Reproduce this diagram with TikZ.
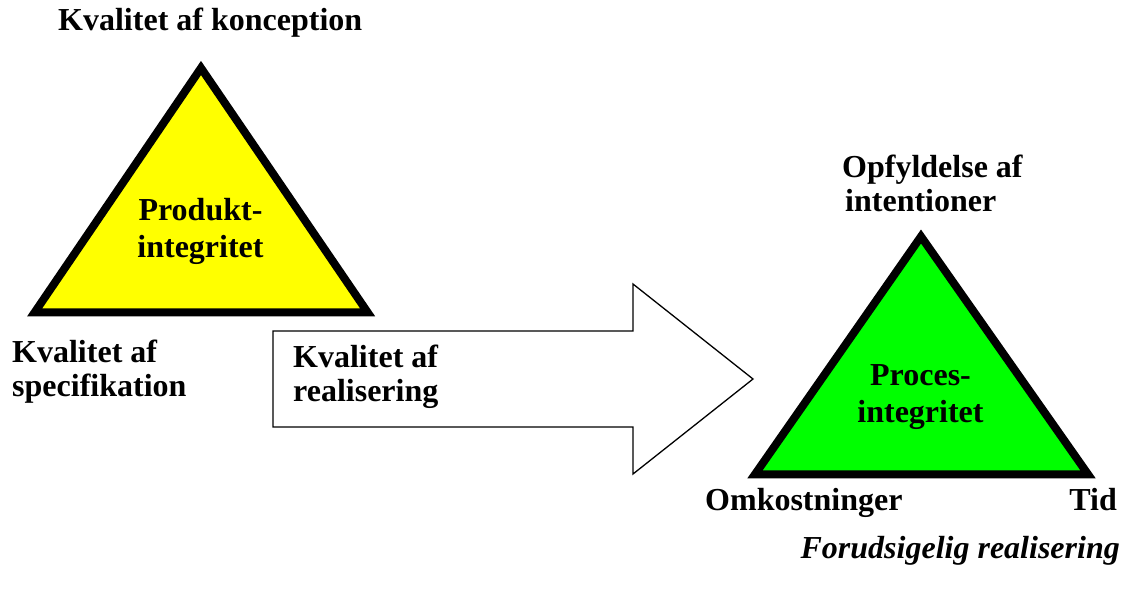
\documentclass[tikz,border=0pt]{standalone}
\usepackage{fontspec}
\setmainfont{Liberation Serif}
\definecolor{triyellow}{RGB}{255,255,0}
\definecolor{trigreen}{RGB}{0,255,0}
\newcommand{\lines}[2]{\begin{tabular}[t]{@{}#1@{}}#2\end{tabular}}
\tikzset{
  tri/.style={draw=black, line width=8pt, line join=miter},
  bigarrow/.style={draw=black, fill=white, line width=1.3pt, line join=miter},
  lab/.style={inner sep=0pt, font=\fontsize{32}{34}\selectfont\bfseries},
  inlab/.style={inner sep=0pt, font=\fontsize{32}{37}\selectfont\bfseries},
}
\begin{document}
\begin{tikzpicture}[x=1pt, y=-1pt]
\useasboundingbox (0,0) rectangle (1128,592);
% coordinates of the triangles
\coordinate (pA) at (201,68);
\coordinate (pL) at (34.7,312.3);
\coordinate (pR) at (367.6,312.3);
\coordinate (qA) at (921,236.5);
\coordinate (qL) at (755,474.3);
\coordinate (qR) at (1088,474.3);
% arrow points
\coordinate (a1) at (273,331);
\coordinate (a2) at (633,331);
\coordinate (a3) at (633,284);
\coordinate (a4) at (753,379);
\coordinate (a5) at (633,474);
\coordinate (a6) at (633,427);
\coordinate (a7) at (273,427);

\draw[tri, fill=triyellow] (pA) -- (pL) -- (pR) -- cycle;
\draw[tri, fill=trigreen] (qA) -- (qL) -- (qR) -- cycle;
\draw[bigarrow] (a1) -- (a2) -- (a3) -- (a4) -- (a5) -- (a6) -- (a7) -- cycle;

\node[lab, anchor=base west] (konc) at (58,30) {Kvalitet af konception};
\node[inlab, anchor=base] (prod) at (200.5,220) {\lines{c}{Produkt-\\integritet}};
\node[lab, anchor=base west] (spec) at (12,362) {\lines{l}{Kvalitet af\\specifikation}};
\node[lab, anchor=base west] (real) at (293,367) {\lines{l}{Kvalitet af\\realisering}};
\node[lab, anchor=base west] (opf) at (842,177) {\lines{l}{Opfyldelse af\\\hspace{3pt}intentioner}};
\node[inlab, anchor=base] (proc) at (920.5,385) {\lines{c}{Proces-\\integritet}};
\node[lab, anchor=base west] (omk) at (705,510) {Omkostninger};
\node[lab, anchor=base east] (tid) at (1117,510) {Tid};
\node[lab, anchor=base east, font=\fontsize{32}{34}\selectfont\bfseries\itshape] (forud) at (1120,558) {Forudsigelig realisering};
\end{tikzpicture}
\end{document}
